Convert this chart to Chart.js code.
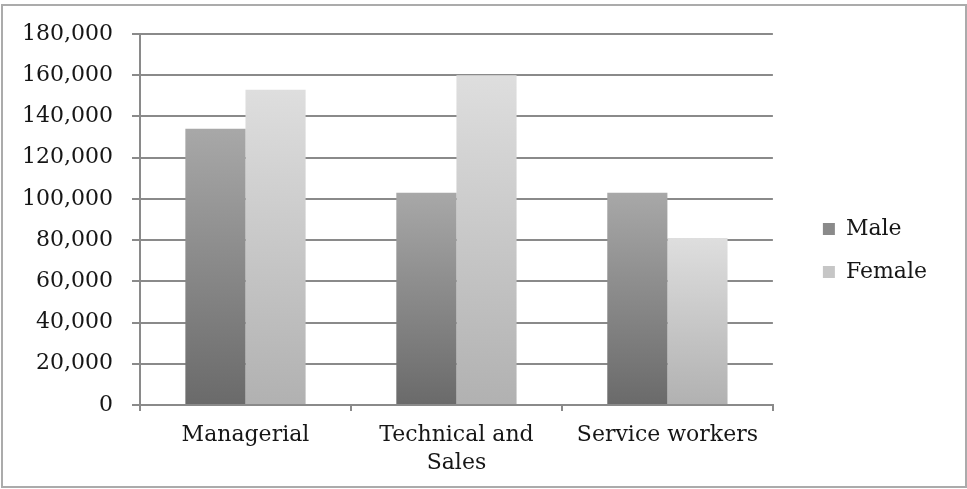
<!DOCTYPE html>
<html>
<head>
<meta charset="utf-8">
<title>Employment by occupation and sex</title>
<script src="https://cdn.jsdelivr.net/npm/chart.js@4/dist/chart.umd.min.js"></script>
<style>
  html, body { margin: 0; padding: 0; background: #fff; }
  #frame {
    position: absolute;
    left: 1px;
    top: 4px;
    width: 966px;
    height: 484px;
    box-sizing: border-box;
    border: 2px solid #ababab;
    background: #fff;
  }
  #chart { display: block; }
</style>
</head>
<body>
<div id="frame">
  <canvas id="chart" width="962" height="480"></canvas>
</div>
<script>
// occupation groups and head counts
const categories = ['Managerial', ['Technical and', 'Sales'], 'Service workers'];
const maleValues = [134000, 103000, 103000];
const femaleValues = [153000, 160000, 81000];
const yTicks = [0, 20000, 40000, 60000, 80000, 100000, 120000, 140000, 160000, 180000];

const FONT = { family: "'DejaVu Serif', serif", size: 22, lineHeight: 1.27 };
const TEXT = '#161616';
const GRID = '#8a8a8a';

// each bar gets its own vertical fade, dark at the base, lighter at the top
function barFade(bottomColor, topColor) {
  return (ctx) => {
    const chart = ctx.chart;
    const area = chart.chartArea;
    if (!area || ctx.parsed == null) return bottomColor;
    const yScale = chart.scales.y;
    const top = yScale.getPixelForValue(ctx.parsed.y);
    const g = chart.ctx.createLinearGradient(0, area.bottom, 0, top);
    g.addColorStop(0, bottomColor);
    g.addColorStop(1, topColor);
    return g;
  };
}

// push the legend a little away from the plot
const legendShift = {
  id: 'legendShift',
  afterLayout(chart) {
    const lg = chart.legend;
    if (!lg) return;
    lg.left += 29;
    lg.right += 29;
    lg.top -= 5;
    lg.bottom -= 5;
  }
};

new Chart(document.getElementById('chart'), {
  type: 'bar',
  data: {
    labels: categories,
    datasets: [
      {
        label: 'Male',
        data: maleValues,
        backgroundColor: barFade('#6a6a6a', '#a8a8a8'),
        legendColor: '#8a8a8a',
        barPercentage: 1,
        categoryPercentage: 0.57
      },
      {
        label: 'Female',
        data: femaleValues,
        backgroundColor: barFade('#b1b1b1', '#dedede'),
        legendColor: '#c6c6c6',
        barPercentage: 1,
        categoryPercentage: 0.57
      }
    ]
  },
  options: {
    responsive: false,
    animation: false,
    layout: { padding: { left: 19, top: 28, right: 57, bottom: 9 } },
    plugins: {
      tooltip: { enabled: false },
      legend: {
        position: 'right',
        labels: {
          boxWidth: 12,
          boxHeight: 12,
          padding: 21,
          color: TEXT,
          font: FONT,
          generateLabels(chart) {
            return chart.data.datasets.map((ds, i) => ({
              text: ds.label,
              fillStyle: ds.legendColor,
              strokeStyle: ds.legendColor,
              lineWidth: 0,
              datasetIndex: i,
              fontColor: TEXT
            }));
          }
        }
      }
    },
    scales: {
      x: {
        afterFit(scale) { scale.height = 72; },
        grid: {
          display: true,
          drawOnChartArea: false,
          drawTicks: true,
          tickLength: 6,
          color: GRID,
          lineWidth: 2
        },
        border: { color: GRID, width: 2 },
        ticks: { color: TEXT, font: FONT, padding: 10, maxRotation: 0 }
      },
      y: {
        min: 0,
        max: 180000,
        afterBuildTicks(scale) {
          scale.ticks = yTicks.map(v => ({ value: v }));
        },
        afterFit(scale) {
          scale.width = 118;
          // only half a label of room above the top tick
          scale.paddingTop = 14;
          scale.paddingBottom = 14;
        },
        grid: {
          color: GRID,
          lineWidth: 2,
          tickLength: 8
        },
        border: { color: GRID, width: 2 },
        ticks: {
          color: TEXT,
          font: FONT,
          padding: 19,
          callback: v => v.toLocaleString('en-US')
        }
      }
    }
  },
  plugins: [legendShift]
});
</script>
</body>
</html>
